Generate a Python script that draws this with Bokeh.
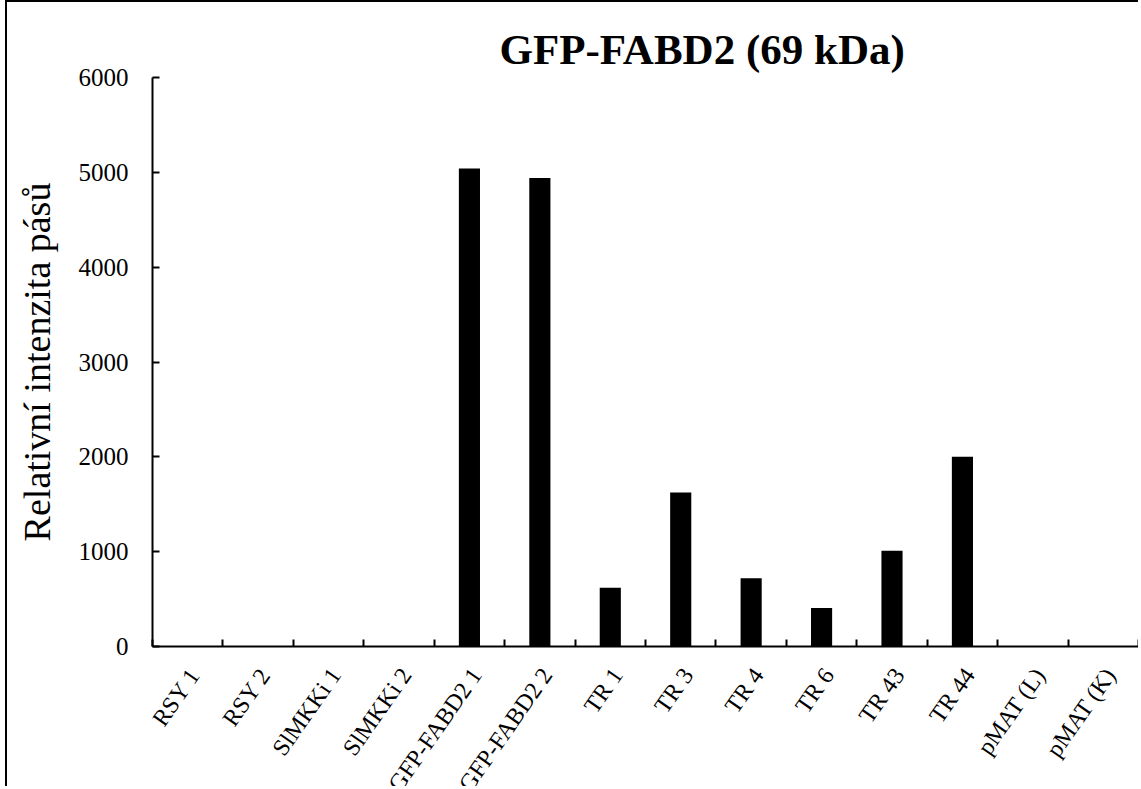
from bokeh.plotting import figure
from bokeh.layouts import column
from bokeh.models import FixedTicker, Range1d, ColumnDataSource
from bokeh.core.properties import value
from bokeh.embed import file_html
from bokeh.resources import INLINE

categories = ["RSY 1", "RSY 2", "SlMKKi 1", "SlMKKi 2", "GFP-FABD2 1", "GFP-FABD2 2",
              "TR 1", "TR 3", "TR 4", "TR 6", "TR 43", "TR 44", "pMAT (L)", "pMAT (K)"]
values = [0, 0, 0, 0, 5040, 4940, 620, 1625, 720, 405, 1010, 2000, 0, 0]
y_ticks = [0, 1000, 2000, 3000, 4000, 5000, 6000]
title_text = "GFP-FABD2 (69 kDa)"
y_label = "Relativní intenzita pásů"

n = len(categories)
xs = [i + 0.5 for i in range(n)]

FONT = "Liberation Serif"
LBL_SIZE = 24
LBL_ANGLE = 55
W = 1131
LEFT = 145

p = figure(width=W, height=660, output_backend="svg", toolbar_location=None,
           x_range=Range1d(0, n), y_range=Range1d(0, 6000),
           min_border_left=LEFT, min_border_top=75, min_border_bottom=16, min_border_right=0,
           title=title_text)

p.vbar(x=xs, top=values, width=0.3, fill_color="black", line_color=None)

p.title.text_font = FONT
p.title.text_font_size = "43px"
p.title.text_font_style = "bold"
p.title.text_color = "black"
p.title.align = "left"
p.title.offset = 347

p.xgrid.visible = False
p.ygrid.visible = False
p.outline_line_color = None

xa = p.xaxis[0]
xa.ticker = FixedTicker(ticks=xs, minor_ticks=list(range(n + 1)))
xa.major_label_text_font_size = "0px"
xa.major_label_text_color = None
xa.major_label_standoff = 0
xa.major_tick_line_color = None
xa.minor_tick_in = 7
xa.minor_tick_out = 0
xa.minor_tick_line_width = 2
xa.minor_tick_line_color = "black"
xa.axis_line_width = 2
xa.axis_line_color = "black"

ya = p.yaxis[0]
ya.ticker = FixedTicker(ticks=y_ticks)
ya.major_tick_in = 7
ya.major_tick_out = 0
ya.major_tick_line_width = 2
ya.minor_tick_line_color = None
ya.axis_line_width = 2
ya.axis_line_color = "black"
ya.major_label_text_font = FONT
ya.major_label_text_font_size = "25px"
ya.major_label_text_color = "black"
ya.major_label_standoff = 24
ya.axis_label = y_label
ya.axis_label_text_font = FONT
ya.axis_label_text_font_size = "38px"
ya.axis_label_text_font_style = "normal"
ya.axis_label_text_color = "black"
ya.axis_label_standoff = 18

# strip under the chart holding the slanted category labels (shares the x scale)
p2 = figure(width=W, height=124, output_backend="svg", toolbar_location=None,
            x_range=p.x_range, y_range=Range1d(-1, 0),
            min_border_left=LEFT, min_border_right=0,
            min_border_top=0, min_border_bottom=0,
            x_axis_type=None, y_axis_type=None)
p2.xgrid.visible = False
p2.ygrid.visible = False
p2.outline_line_color = None

src = ColumnDataSource(dict(x=xs, y=[0] * n, text=categories))
p2.text(x="x", y="y", text="text", source=src, x_offset=7, y_offset=8,
        angle=LBL_ANGLE, angle_units="deg", text_align="right", text_baseline="middle",
        text_font=value(FONT), text_font_size=value(f"{LBL_SIZE}px"), text_color="black")

lay = column(p, p2, spacing=0)
lay.styles = {"position": "relative", "left": "5px",
              "border-top": "2px solid black", "border-left": "2px solid black"}

open("out.html", "w").write(file_html(lay, INLINE))
